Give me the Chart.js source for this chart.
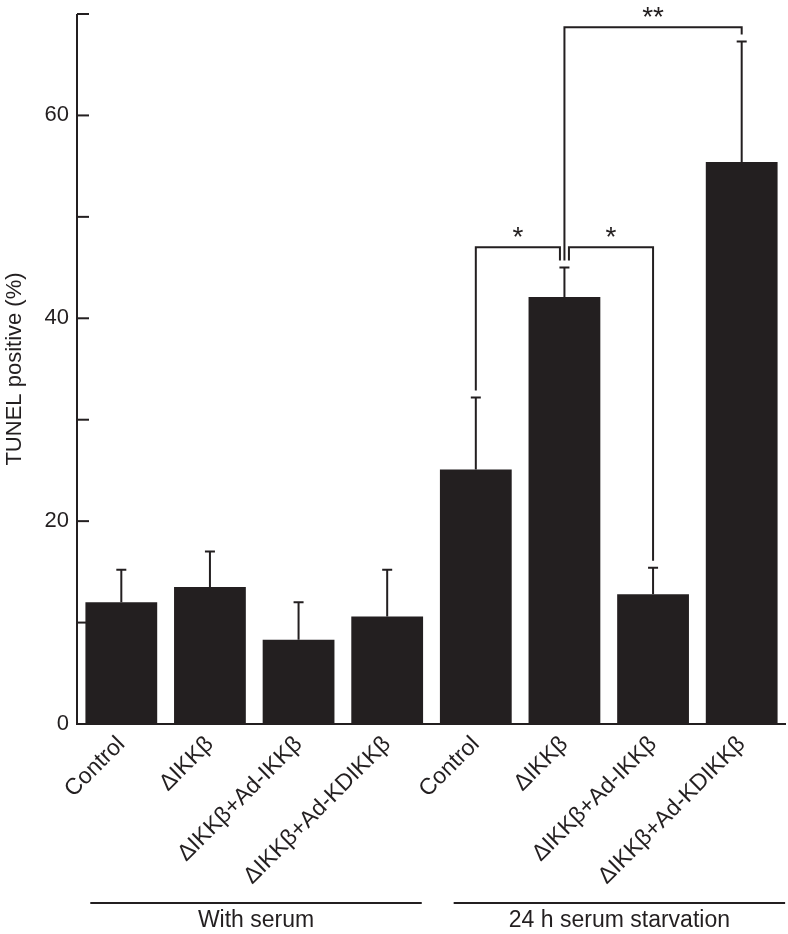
<!DOCTYPE html>
<html>
<head>
<meta charset="utf-8">
<script src="https://cdn.jsdelivr.net/npm/chart.js@4.4.1/dist/chart.umd.min.js"></script>
<style>
  html, body { margin: 0; padding: 0; background: #fff; }
  #wrap { width: 788px; height: 934px; }
</style>
</head>
<body>
<div id="wrap"><canvas id="myChart"></canvas></div>
<script>
// data
const categories = ['Control', 'ΔIKKβ', 'ΔIKKβ+Ad-IKKβ', 'ΔIKKβ+Ad-KDIKKβ',
  'Control', 'ΔIKKβ', 'ΔIKKβ+Ad-IKKβ', 'ΔIKKβ+Ad-KDIKKβ'];
const tunelMean = [12.0, 13.5, 8.3, 10.6, 25.1, 42.1, 12.8, 55.4];
const tunelErrTop = [15.2, 17.0, 12.0, 15.2, 32.2, 45.0, 15.4, 67.3];
const yTickLabels = [0, 20, 40, 60];
const groupNames = ['With serum', '24 h serum starvation'];
const sigFrom = [4, 5, 5];
const sigTo = [5, 6, 7];
const sigLevel = [47.0, 47.0, 68.7];
const sigLabel = ['*', '*', '**'];

const ink = '#231f20';
const fontFamily = '"Liberation Sans", Arial, Helvetica, sans-serif';

// group underline spans, in category units
const groupSpan = [[-0.35, 3.39], [3.75, 7.49]];

const extras = {
  id: 'extras',
  afterDraw(chart) {
    const ctx = chart.ctx;
    const a = chart.chartArea;
    const xs = chart.scales.x;
    const ys = chart.scales.y;
    const bars = chart.getDatasetMeta(0).data;
    ctx.save();
    ctx.strokeStyle = ink;
    ctx.fillStyle = ink;
    ctx.lineWidth = 2;

    // axes
    ctx.beginPath();
    ctx.moveTo(a.left, ys.getPixelForValue(ys.max));
    ctx.lineTo(a.left, a.bottom);
    ctx.lineTo(a.right, a.bottom);
    ctx.stroke();
    ys.ticks.forEach(t => {
      let py = ys.getPixelForValue(t.value);
      ctx.beginPath();
      ctx.moveTo(a.left, py);
      ctx.lineTo(a.left + 12, py);
      ctx.stroke();
    });

    // error bars (upper only)
    bars.forEach((b, i) => {
      let top = ys.getPixelForValue(tunelErrTop[i]);
      ctx.beginPath();
      ctx.moveTo(b.x, b.y);
      ctx.lineTo(b.x, top);
      ctx.moveTo(b.x - 5, top);
      ctx.lineTo(b.x + 5, top);
      ctx.stroke();
    });

    // significance brackets
    ctx.font = '28px ' + fontFamily;
    ctx.textAlign = 'center';
    ctx.textBaseline = 'alphabetic';
    sigFrom.forEach((f, i) => {
      let t = sigTo[i];
      let nudgeF = 0, nudgeT = 0;
      sigFrom.forEach((f2, j) => {
        if (j === i || sigLevel[j] !== sigLevel[i]) return;
        if (sigTo[j] === f) nudgeF = 4.5;
        if (f2 === t) nudgeT = -4.5;
      });
      let x1 = bars[f].x + nudgeF;
      let x2 = bars[t].x + nudgeT;
      let py = ys.getPixelForValue(sigLevel[i]);
      ctx.beginPath();
      ctx.moveTo(x1, ys.getPixelForValue(tunelErrTop[f]) - 7);
      ctx.lineTo(x1, py);
      ctx.lineTo(x2, py);
      ctx.lineTo(x2, ys.getPixelForValue(tunelErrTop[t]) - 7);
      ctx.stroke();
      ctx.fillText(sigLabel[i], (x1 + x2) / 2, py - 1);
    });

    // group underlines
    ctx.font = '23px ' + fontFamily;
    ctx.textBaseline = 'middle';
    groupNames.forEach((g, i) => {
      let x1 = xs.getPixelForValue(groupSpan[i][0]);
      let x2 = xs.getPixelForValue(groupSpan[i][1]);
      ctx.beginPath();
      ctx.moveTo(x1, 903);
      ctx.lineTo(x2, 903);
      ctx.stroke();
      ctx.fillText(g, (x1 + x2) / 2, 921);
    });

    // y axis title
    ctx.font = '22px ' + fontFamily;
    ctx.translate(15, (a.top + a.bottom) / 2);
    ctx.rotate(-Math.PI / 2);
    ctx.fillText('TUNEL positive (%)', 0, 0);
    ctx.restore();
  }
};

const ctx = document.getElementById('myChart');
new Chart(ctx, {
  type: 'bar',
  data: {
    labels: categories,
    datasets: [{
      data: tunelMean,
      backgroundColor: ink,
      borderWidth: 0,
      barPercentage: 0.81,
      categoryPercentage: 1
    }]
  },
  options: {
    responsive: true,
    maintainAspectRatio: false,
    animation: false,
    layout: { padding: { top: 14, right: 2, left: 0, bottom: 0 } },
    plugins: {
      legend: { display: false },
      tooltip: { enabled: false }
    },
    scales: {
      x: {
        grid: { display: false, drawTicks: false },
        border: { display: false },
        ticks: {
          color: ink,
          font: { size: 23, family: fontFamily },
          minRotation: 45,
          maxRotation: 45,
          autoSkip: false,
          padding: 7
        },
        afterFit: s => { s.height = 210; s.paddingLeft = 0; s.paddingRight = 0; }
      },
      y: {
        min: 0,
        max: 70,
        grid: { display: false, drawTicks: false },
        border: { display: false },
        ticks: {
          stepSize: 10,
          color: ink,
          padding: 8,
          font: { size: 22, family: fontFamily },
          callback: v => yTickLabels.includes(v) ? v : ''
        },
        afterFit: s => { s.width = 77; s.paddingTop = 0; s.paddingBottom = 0; }
      }
    }
  },
  plugins: [extras]
});
</script>
</body>
</html>
